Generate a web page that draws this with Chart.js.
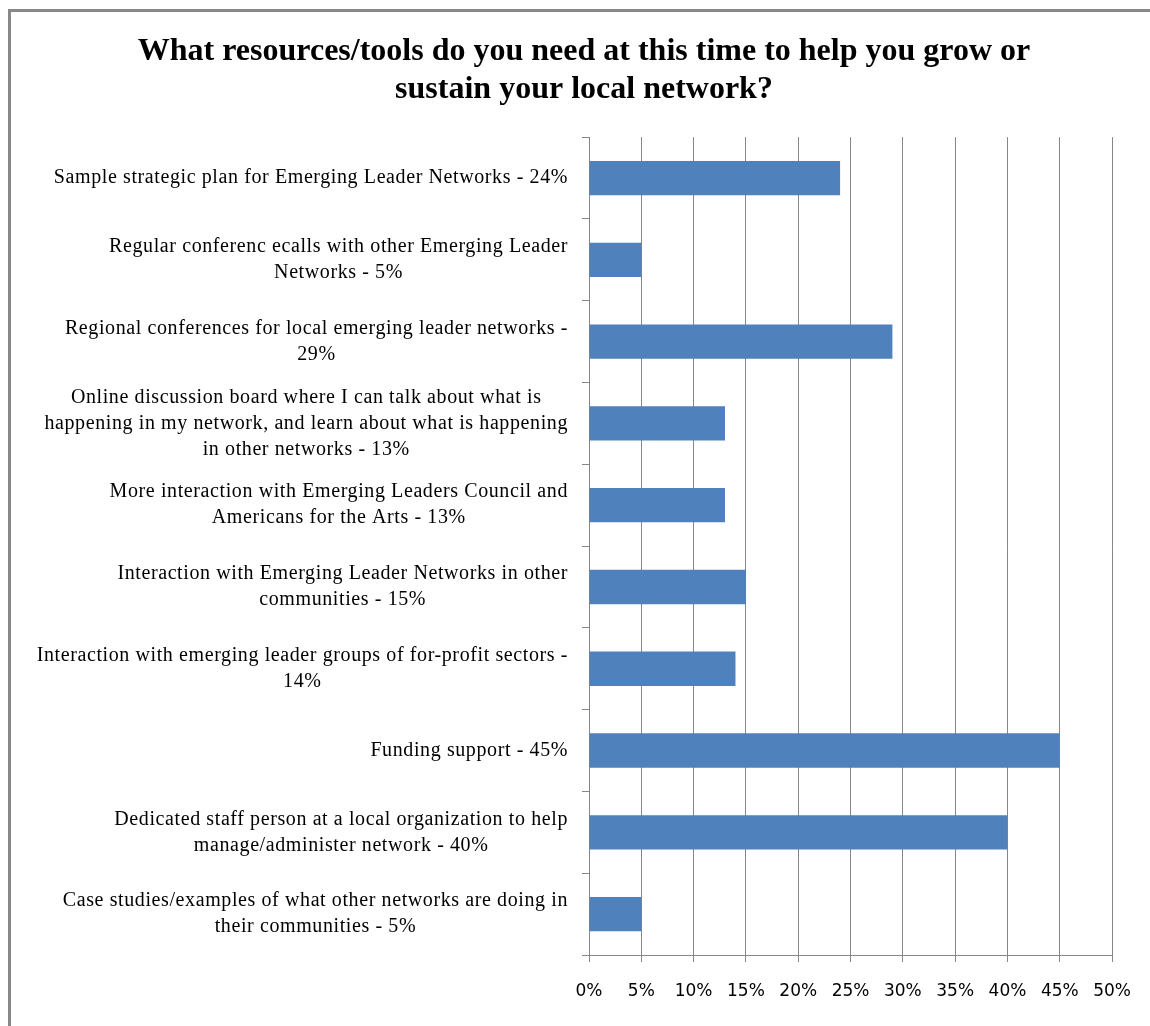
<!DOCTYPE html>
<html>
<head>
<meta charset="utf-8">
<script src="https://cdn.jsdelivr.net/npm/chart.js@4/dist/chart.umd.min.js"></script>
<style>
  html, body { margin: 0; padding: 0; background: #ffffff; }
  #wrap { width: 1150px; height: 1026px; position: relative; }
</style>
</head>
<body>
<div id="wrap"><canvas id="chart" width="1150" height="1026"></canvas></div>
<script>
// Survey question and answers
const titleLines = [
  'What resources/tools do you need at this time to help you grow or',
  'sustain your local network?'
];

const categories = [
  ['Sample strategic plan for Emerging Leader Networks - 24%'],
  ['Regular conferenc ecalls with other Emerging Leader', 'Networks - 5%'],
  ['Regional conferences for local emerging leader networks -', '29%'],
  ['Online discussion board where I can talk about what is', 'happening in my network, and learn about what is happening', 'in other networks - 13%'],
  ['More interaction with Emerging Leaders Council and', 'Americans for the Arts - 13%'],
  ['Interaction with Emerging Leader Networks in other', 'communities - 15%'],
  ['Interaction with emerging leader groups of for-profit sectors -', '14%'],
  ['Funding support - 45%'],
  ['Dedicated staff person at a local organization to help', 'manage/administer network - 40%'],
  ['Case studies/examples of what other networks are doing in', 'their communities - 5%']
];

// Share of respondents (percent)
const shares = [24, 5, 29, 13, 13, 15, 14, 45, 40, 5];

// Value axis ticks (percent)
const axisTicks = [0, 5, 10, 15, 20, 25, 30, 35, 40, 45, 50];

const GRID = '#868686';
const BAR = '#4f81bd';
const SERIF = '"Liberation Serif", "Times New Roman", serif';
const LABEL_FONT = '20px ' + SERIF;
const LABEL_SPACING = '0.6px';
const LABEL_LINE = 26;
const Y_TICK_LEN = 7;
const Y_LABEL_PAD = 14;

// Gray frame along the top and left edges
const framePlugin = {
  id: 'frame',
  beforeDraw(chart) {
    const ctx = chart.ctx;
    ctx.save();
    ctx.fillStyle = '#888888';
    ctx.fillRect(8, 9, chart.width - 8, 3);
    ctx.fillRect(8, 9, 3, chart.height - 9);
    ctx.restore();
  }
};

// Category labels: each block right-aligned against the axis, lines centred within the block
const categoryLabelPlugin = {
  id: 'categoryLabels',
  afterDraw(chart) {
    const scale = chart.scales.y;
    const ctx = chart.ctx;
    ctx.save();
    ctx.font = LABEL_FONT;
    if ('letterSpacing' in ctx) ctx.letterSpacing = LABEL_SPACING;
    ctx.fillStyle = '#000000';
    ctx.textAlign = 'center';
    ctx.textBaseline = 'middle';
    const rightEdge = scale.right - Y_TICK_LEN - Y_LABEL_PAD;
    scale.ticks.forEach((tick, i) => {
      const lines = categories[i];
      const widest = Math.max(...lines.map(l => ctx.measureText(l).width));
      const cx = rightEdge - widest / 2;
      const cy = scale.getPixelForTick(i);
      const y0 = cy - (lines.length - 1) * LABEL_LINE / 2;
      lines.forEach((line, k) => ctx.fillText(line, cx, y0 + k * LABEL_LINE));
    });
    if ('letterSpacing' in ctx) ctx.letterSpacing = '0px';
    ctx.restore();
  }
};

new Chart(document.getElementById('chart'), {
  type: 'bar',
  data: {
    labels: categories,
    datasets: [{
      data: shares,
      backgroundColor: BAR,
      borderWidth: 0,
      categoryPercentage: 1.0,
      barPercentage: 0.42
    }]
  },
  options: {
    indexAxis: 'y',
    responsive: false,
    animation: false,
    events: [],
    layout: { padding: { top: 0, left: 54, right: 36, bottom: 0 } },
    plugins: {
      legend: { display: false },
      tooltip: { enabled: false },
      title: {
        display: true,
        text: titleLines,
        color: '#000000',
        font: { family: SERIF, size: 32, weight: 'bold', lineHeight: 1.19 },
        padding: { top: 33, bottom: 28 }
      }
    },
    scales: {
      x: {
        min: 0,
        max: 50,
        afterBuildTicks(scale) {
          scale.ticks = axisTicks.map(v => ({ value: v }));
        },
        afterFit(scale) { scale.height = 71; },
        grid: {
          color: GRID,
          lineWidth: 1,
          drawTicks: true,
          tickLength: 7,
          tickColor: GRID
        },
        border: { display: true, color: GRID, width: 1 },
        ticks: {
          autoSkip: false,
          maxRotation: 0,
          padding: 19,
          color: '#000000',
          font: { family: '"DejaVu Sans", Verdana, sans-serif', size: 17 },
          callback: v => v + '%'
        }
      },
      y: {
        afterFit(scale) { scale.width = 535; },
        grid: {
          drawOnChartArea: false,
          drawTicks: true,
          tickLength: Y_TICK_LEN,
          color: GRID,
          offset: true
        },
        border: { display: true, color: GRID, width: 1 },
        ticks: { display: false }
      }
    }
  },
  plugins: [framePlugin, categoryLabelPlugin]
});
</script>
</body>
</html>
